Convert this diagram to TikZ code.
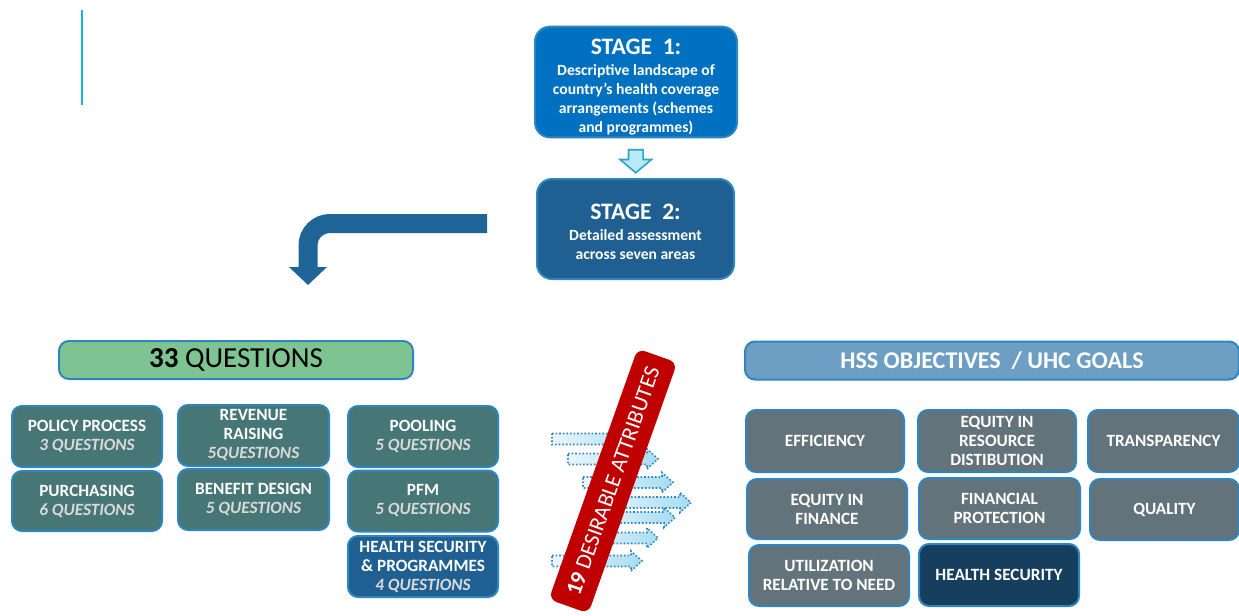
\documentclass[tikz,border=0pt]{standalone}
\usepackage{fontspec}
\setmainfont{Carlito}
\usetikzlibrary{shapes.arrows,arrows.meta,calc,positioning}

\definecolor{stageone}{HTML}{0070C0}
\definecolor{stagetwo}{HTML}{1F5F91}
\definecolor{edgeblue}{HTML}{2E86C1}
\definecolor{bendblue}{HTML}{1F6496}
\definecolor{downfill}{HTML}{B7E9F7}
\definecolor{downedge}{HTML}{31A3C6}
\definecolor{qgreen}{HTML}{7EC492}
\definecolor{areateal}{HTML}{467676}
\definecolor{goalgrey}{HTML}{63737C}
\definecolor{goalnavy}{HTML}{163F5E}
\definecolor{hssblue}{HTML}{6C9FC3}
\definecolor{attrred}{HTML}{C00000}
\definecolor{qgrey}{HTML}{DADADA}
\definecolor{arrowlight}{HTML}{EAF6FC}
\definecolor{arrowdark}{HTML}{A6DCF2}
\definecolor{markcyan}{HTML}{1BB0E0}

\tikzset{
  box/.style={draw=edgeblue, line width=1pt, rounded corners=5pt, text=white,
    align=center, inner sep=1pt, font=\bfseries\fontsize{8.6}{9.5}\selectfont},
  stagebox/.style={box, rounded corners=7.5pt, font=\bfseries\fontsize{7.8}{9.5}\selectfont},
  areabox/.style={box, fill=areateal, minimum width=75pt, minimum height=30.5pt},
  goalbox/.style={box, fill=goalgrey, minimum width=79pt, minimum height=31pt},
  headbar/.style={box, minimum height=19pt},
  attrarrow/.style={draw=edgeblue, densely dotted, line width=0.8pt,
    left color=arrowlight, right color=arrowdark},
}
\newcommand{\nq}[1]{{\itshape\color{qgrey}#1}}

\begin{document}
\begin{tikzpicture}[x=0.5pt, y=-0.5pt]
  \useasboundingbox (0,0) rectangle (1239,616);

  \draw[markcyan, line width=1pt] (82,10) -- (82,105);

  % stages
  \node[stagebox, fill=stageone, minimum width=101pt, minimum height=55pt] (stageone) at (636,82)
    {\rule{0pt}{13pt}{\fontsize{11.8}{12}\selectfont STAGE\ \ 1:}\\[1pt] Descriptive landscape of\\ country's health coverage\\ arrangements (schemes\\ and programmes)};
  \node[stagebox, fill=stagetwo, minimum width=98.5pt, minimum height=50pt] (stagetwo) at (635.5,229)
    {\rule{0pt}{11pt}{\fontsize{11.8}{12}\selectfont STAGE\ \ 2:}\\[1pt] Detailed assessment\\ across seven areas};
  \node[single arrow, draw=downedge, fill=downfill, line width=0.8pt, shape border rotate=270,
    minimum height=11.5pt, inner sep=3.25pt, single arrow head extend=4.25pt,
    single arrow tip angle=100] (down) at ($(stageone.south)!0.5!(stagetwo.north)$) {};

  % bent arrow
  \coordinate (bendstart) at (487,223.5);
  \coordinate (bendend) at (308,285);
  \draw[bendblue, line width=9.5pt, rounded corners=11pt, -{Triangle[length=9pt, width=18.5pt]}]
    (bendstart) -| (bendend);

  % questions
  \node[headbar, fill=qgreen, minimum width=177pt, text=black, font=\fontsize{14.5}{15}\selectfont] (questions) at (236,360)
    {\textbf{33} QUESTIONS};
  \node[areabox] (policy) at (87,436.5) {POLICY PROCESS\\ \nq{3 QUESTIONS}};
  \node[areabox, minimum height=30pt] (purchasing) at (87,501) {PURCHASING\\ \nq{6 QUESTIONS}};
  \node[areabox, minimum width=75.5pt] (revenue) at (253.5,435.5) {REVENUE\\ RAISING\\ \nq{5QUESTIONS}};
  \node[areabox, minimum width=75.5pt] (benefit) at (253.5,499.5) {BENEFIT DESIGN\\ \nq{5 QUESTIONS}};
  \node[areabox] (pooling) at (423,436.5) {POOLING\\ \nq{5 QUESTIONS}};
  \node[areabox] (pfm) at (423,501) {PFM\\ \nq{5 QUESTIONS}};
  \node[areabox, fill=stagetwo] (security) at (423,566.5) {HEALTH SECURITY\\ \& PROGRAMMES\\ \nq{4 QUESTIONS}};

  % desirable attributes
  \foreach \yy/\xa/\xb in {439/552/645, 459/568/658, 482.5/583/673, 502.5/595/691,
                           517.5/590/675, 538/585/658, 561/552/642}
    \draw[attrarrow] (\xa,\yy-5.5) -- (\xb-11,\yy-5.5) -- (\xb-11,\yy-10) -- (\xb,\yy)
      -- (\xb-11,\yy+10) -- (\xb-11,\yy+5.5) -- (\xa,\yy+5.5) -- cycle;
  \node[fill=attrred, rounded corners=4pt, rotate=70.5, minimum width=133pt, minimum height=21pt,
    text=white, font=\fontsize{11.2}{12}\selectfont] (attributes) at (613,481)
    {\textbf{19} DESIRABLE ATTRIBUTES};

  % goals
  \node[headbar, fill=hssblue, minimum width=247pt, font=\bfseries\fontsize{12}{13}\selectfont] (hss) at (992,360.5)
    {HSS OBJECTIVES\ \ /\ UHC GOALS};
  \node[goalbox] (efficiency) at (825,441) {EFFICIENCY};
  \node[goalbox] (equityres) at (997,441) {EQUITY IN\\ RESOURCE\\ DISTIBUTION};
  \node[goalbox, minimum width=75.5pt] (transparency) at (1163.5,441) {TRANSPARENCY};
  \node[goalbox, minimum width=80pt, minimum height=30pt] (equityfin) at (827,509) {EQUITY IN\\ FINANCE};
  \node[goalbox, minimum width=80.5pt, minimum height=30.5pt] (protection) at (999.5,508.5) {FINANCIAL\\ PROTECTION};
  \node[goalbox, minimum width=74.5pt, minimum height=30.5pt] (quality) at (1164.5,509.5) {QUALITY};
  \node[goalbox, minimum width=80pt, minimum height=30.5pt] (utilization) at (829,575.5) {UTILIZATION\\ RELATIVE TO NEED};
  \node[goalbox, fill=goalnavy, minimum width=80pt] (hsgoal) at (999,575) {HEALTH SECURITY};
\end{tikzpicture}
\end{document}
